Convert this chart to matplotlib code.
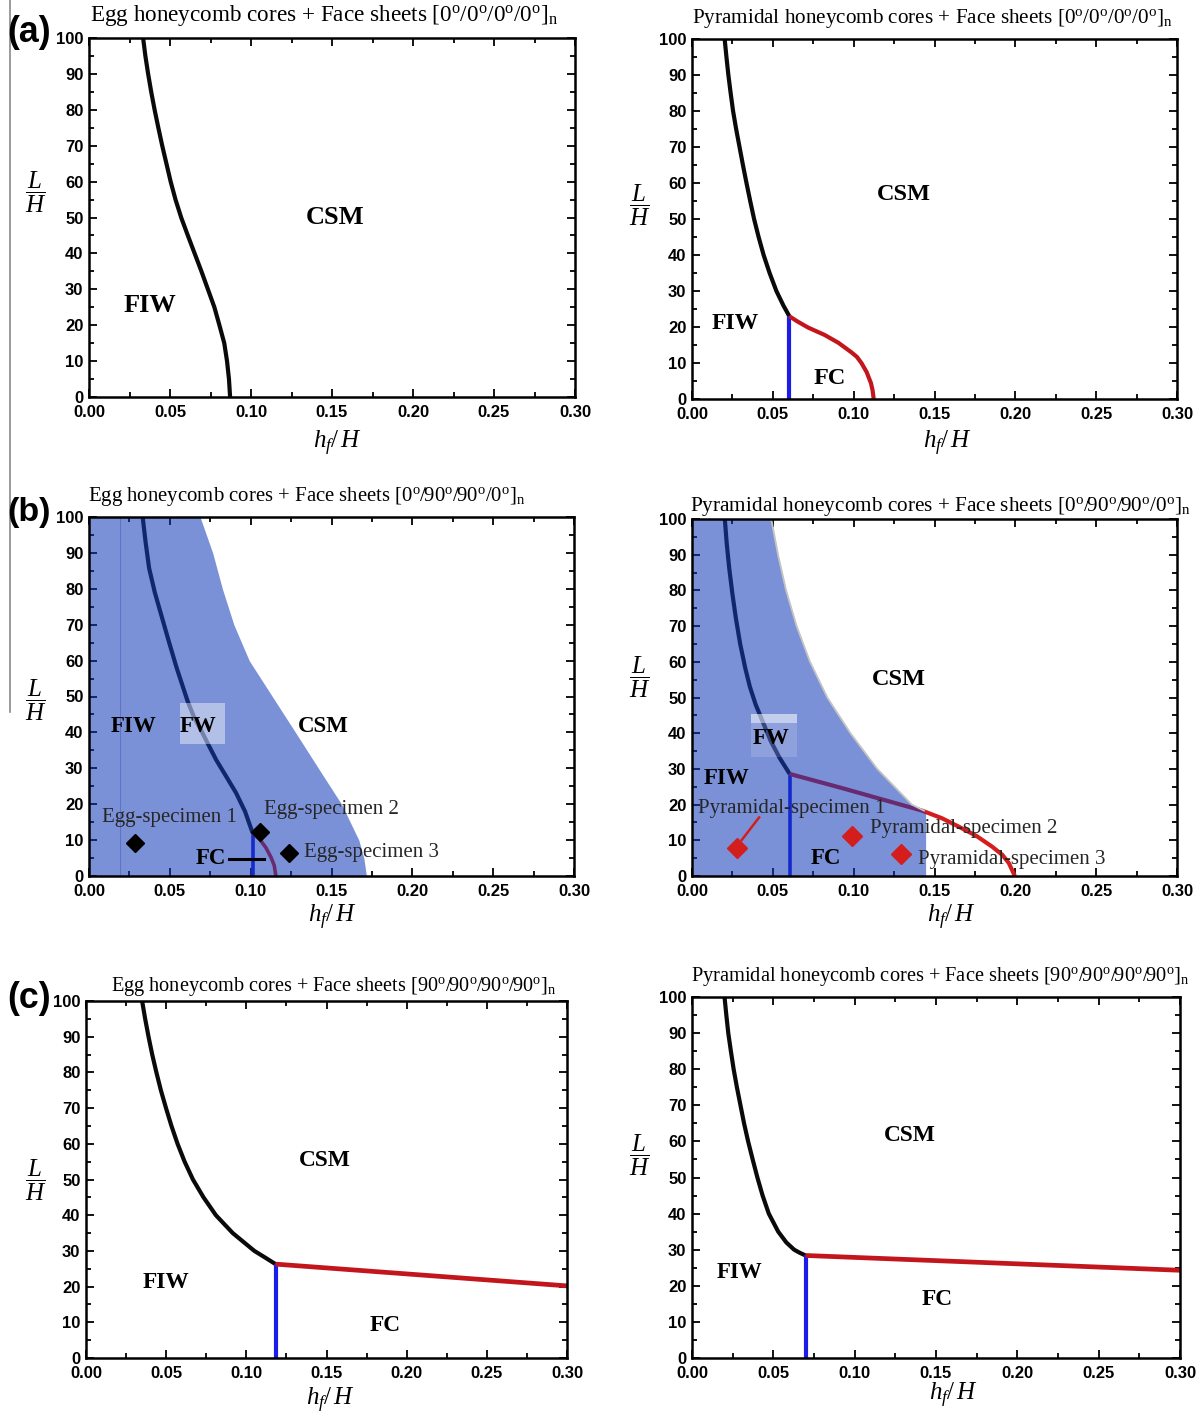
import matplotlib
matplotlib.use('Agg')
import matplotlib.pyplot as plt
from matplotlib.patches import Rectangle
from matplotlib.lines import Line2D
from matplotlib.ticker import MultipleLocator

plt.rcParams['font.family'] = 'Liberation Serif'
plt.rcParams['mathtext.fontset'] = 'custom'
plt.rcParams['mathtext.rm'] = 'Liberation Serif'
plt.rcParams['mathtext.it'] = 'Liberation Serif:italic'
plt.rcParams['mathtext.bf'] = 'Liberation Serif:bold'

# ---------------- data ----------------
x_ticks = [0.00, 0.05, 0.10, 0.15, 0.20, 0.25, 0.30]
x_tick_labels = ['0.00', '0.05', '0.10', '0.15', '0.20', '0.25', '0.30']
y_ticks = [0, 10, 20, 30, 40, 50, 60, 70, 80, 90, 100]
y_tick_labels = ['0', '10', '20', '30', '40', '50', '60', '70', '80', '90', '100']

titles = [
    r'Egg honeycomb cores + Face sheets [0$^{\rm o}$/0$^{\rm o}$/0$^{\rm o}$/0$^{\rm o}$]$_{\rm n}$',
    r'Pyramidal honeycomb cores + Face sheets [0$^{\rm o}$/0$^{\rm o}$/0$^{\rm o}$/0$^{\rm o}$]$_{\rm n}$',
    r'Egg honeycomb cores + Face sheets [0$^{\rm o}$/90$^{\rm o}$/90$^{\rm o}$/0$^{\rm o}$]$_{\rm n}$',
    r'Pyramidal honeycomb cores + Face sheets [0$^{\rm o}$/90$^{\rm o}$/90$^{\rm o}$/0$^{\rm o}$]$_{\rm n}$',
    r'Egg honeycomb cores + Face sheets [90$^{\rm o}$/90$^{\rm o}$/90$^{\rm o}$/90$^{\rm o}$]$_{\rm n}$',
    r'Pyramidal honeycomb cores + Face sheets [90$^{\rm o}$/90$^{\rm o}$/90$^{\rm o}$/90$^{\rm o}$]$_{\rm n}$',
]
panel_letters = ['(a)', '(b)', '(c)']

# (a) Egg [0/0/0/0]
a_egg_black_x = [0.0334, 0.0348, 0.0365, 0.0384, 0.0405, 0.0428, 0.0452, 0.0478, 0.0504, 0.0534, 0.0569,
                 0.0610, 0.0652, 0.0694, 0.0734, 0.0774, 0.0805, 0.0835, 0.0852, 0.0864, 0.0871]
a_egg_black_y = [100, 95, 90, 85, 80, 75, 70, 65, 60, 55, 50, 45, 40, 35, 30, 25, 20, 15, 10, 5, 0]

# (a) Pyramidal [0/0/0/0]
a_pyr_black_x = [0.0202, 0.0213, 0.0225, 0.0239, 0.0254, 0.0273, 0.0294, 0.0315, 0.0337, 0.036, 0.0384,
                 0.0412, 0.0443, 0.048, 0.0522, 0.0565, 0.0602]
a_pyr_black_y = [100, 95, 90, 85, 80, 75, 70, 65, 60, 55, 50, 45, 40, 35, 30, 26, 23]
a_pyr_blue_x = [0.0602, 0.0602]
a_pyr_blue_y = [0, 23]
a_pyr_red_x = [0.0602, 0.065, 0.0716, 0.076, 0.082, 0.0906, 0.0985, 0.102, 0.1048, 0.108, 0.1107, 0.1117, 0.1124]
a_pyr_red_y = [23, 21.6, 19.9, 19.0, 17.8, 15.6, 13, 11.7, 10, 7.5, 4.4, 2.4, 0]

# (b) Egg [0/90/90/0]
b_egg_black_x = [0.0332, 0.0350, 0.0372, 0.0407, 0.0452, 0.0496, 0.0542, 0.061, 0.0652, 0.070, 0.0745,
                 0.0786, 0.0845, 0.0909, 0.0965, 0.1012]
b_egg_black_y = [100, 93, 85.7, 79, 71.9, 65, 58, 48.7, 44, 40, 36, 32.4, 28, 23.2, 18, 12.0]
b_egg_blue_x = [0.1012, 0.1012]
b_egg_blue_y = [0, 12.0]
b_egg_red_x = [0.1012, 0.1055, 0.1094, 0.1126, 0.1146, 0.1156]
b_egg_red_y = [12.0, 10.3, 7.9, 5.2, 2.9, 0]
b_egg_shade_x = [0.0687, 0.0765, 0.0825, 0.0896, 0.0991, 0.1134, 0.1277, 0.1419, 0.1562, 0.1669, 0.1700, 0.1716]
b_egg_shade_y = [100, 90, 80, 70, 60, 50, 40, 30, 20, 10, 5, 0]
b_egg_spec_x = [0.0287, 0.1057, 0.1239]
b_egg_spec_y = [9.3, 12.2, 6.3]
b_egg_spec_labels = ['Egg-specimen 1', 'Egg-specimen 2', 'Egg-specimen 3']

# (b) Pyramidal [0/90/90/0]
b_pyr_black_x = [0.0203, 0.0215, 0.023, 0.025, 0.0271, 0.0298, 0.0329, 0.0358, 0.0394, 0.0436, 0.0485,
                 0.0543, 0.0604]
b_pyr_black_y = [100, 93, 86.3, 79, 72.3, 65, 58.3, 53, 48, 43.4, 38, 33, 28.6]
b_pyr_blue_x = [0.0604, 0.0604]
b_pyr_blue_y = [0, 28.6]
b_pyr_red_x = [0.0604, 0.093, 0.1424, 0.1545, 0.1651, 0.176, 0.1857, 0.192, 0.196, 0.1997]
b_pyr_red_y = [28.6, 24.6, 18.3, 16.2, 13.8, 11.2, 8.2, 5.9, 3.6, 0]
b_pyr_shade_x = [0.0490, 0.0532, 0.0582, 0.0647, 0.073, 0.0837, 0.098, 0.1146, 0.136, 0.1435, 0.1445, 0.1445]
b_pyr_shade_y = [100, 90, 80, 70, 60, 50, 40, 30, 20, 18.3, 17.5, 0]
b_pyr_spec_x = [0.0281, 0.0992, 0.129]
b_pyr_spec_y = [7.8, 11.3, 6.2]
b_pyr_spec_labels = ['Pyramidal-specimen 1', 'Pyramidal-specimen 2', 'Pyramidal-specimen 3']

# (c) Egg [90/90/90/90]
c_egg_black_x = [0.035, 0.0369, 0.039, 0.0413, 0.0439, 0.0467, 0.0499, 0.0533, 0.0571, 0.0615, 0.0667,
                 0.0733, 0.081, 0.0915, 0.105, 0.1115, 0.1182]
c_egg_black_y = [100, 95, 90, 85, 80, 75, 70, 65, 60, 55, 50, 45, 40, 35, 30, 28.2, 26.3]
c_egg_blue_x = [0.1182, 0.1182]
c_egg_blue_y = [0, 26.3]
c_egg_red_x = [0.1182, 0.30]
c_egg_red_y = [26.3, 20.2]

# (c) Pyramidal [90/90/90/90]
c_pyr_black_x = [0.020, 0.0211, 0.0223, 0.0239, 0.0256, 0.0276, 0.0298, 0.032, 0.0345, 0.0373, 0.0402,
                 0.0434, 0.0472, 0.0530, 0.0580, 0.0628, 0.0660, 0.0698]
c_pyr_black_y = [100, 95, 90, 85, 80, 75, 70, 65, 60, 55, 50, 45, 40, 35, 32, 30, 29.2, 28.4]
c_pyr_blue_x = [0.0698, 0.0698]
c_pyr_blue_y = [0, 28.4]
c_pyr_red_x = [0.0698, 0.30]
c_pyr_red_y = [28.4, 24.3]

# ---------------- styling ----------------
W, H = 1200, 1413
fig = plt.figure(figsize=(12, 14.13), dpi=100)
renderer = fig.canvas.get_renderer()

BLACK = '#0a0a0a'
BLUE = '#1c1ce8'
RED = '#c2161c'
RED_B = '#d41e1e'
SHADE = (15/255, 55/255, 182/255)
SHADE_A = 0.55
LW = 3.0


def px_rect(x0, x1, y0, y1):
    return [x0 / W, 1 - y1 / H, (x1 - x0) / W, (y1 - y0) / H]


def style(ax):
    ax.set_xlim(0, 0.3)
    ax.set_ylim(0, 100)
    ax.set_xticks(x_ticks)
    ax.set_xticklabels(x_tick_labels, fontfamily='Liberation Sans', fontweight='bold', fontsize=12)
    ax.set_yticks(y_ticks)
    ax.set_yticklabels(y_tick_labels, fontfamily='Liberation Sans', fontweight='bold', fontsize=12)
    ax.xaxis.set_minor_locator(MultipleLocator(0.025))
    ax.yaxis.set_minor_locator(MultipleLocator(5))
    ax.tick_params(which='both', direction='in', top=True, right=True, width=1.3)
    ax.tick_params(which='major', length=6)
    ax.tick_params(which='minor', length=3.5)
    ax.tick_params(axis='x', pad=6)
    ax.tick_params(axis='y', pad=4)
    for s in ax.spines.values():
        s.set_linewidth(1.8)
        s.set_zorder(10)


def fit_text(x_px, y_px, s, target_w, ha='left', **kw):
    t = fig.text(x_px / W, 1 - y_px / H, s, ha=ha, va='center', fontsize=15, **kw)
    w = t.get_window_extent(renderer).width
    t.set_fontsize(15 * target_w / w)
    return t


def region(ax, x, y, s, size=17):
    ax.text(x, y, s, ha='center', va='center', fontsize=size, fontweight='bold',
            fontfamily='Liberation Serif', color='black', zorder=8)


def ylab(x_px, y_px):
    fig.text(x_px / W, 1 - y_px / H, r'$\dfrac{L}{H}$', ha='center', va='center', fontsize=18)


def xlab(x_px, y_px):
    fig.text(x_px / W, 1 - y_px / H, r'$h_f/\,H$', ha='center', va='center', fontsize=18)


def curve(ax, x, y, color, lw=LW, z=2):
    ax.plot(x, y, color=color, lw=lw, solid_joinstyle='round', solid_capstyle='butt', zorder=z)


axes_px = [
    (89, 575, 38, 397),
    (692, 1177, 39, 399),
    (89, 574, 517, 876),
    (692, 1177, 519, 876),
    (86, 567, 1001, 1358),
    (692, 1180, 997, 1358),
]
axs = [fig.add_axes(px_rect(*p)) for p in axes_px]
for ax in axs:
    style(ax)

# ---- (a) left
ax = axs[0]
curve(ax, a_egg_black_x, a_egg_black_y, BLACK)
region(ax, 0.152, 50.1, 'CSM', 19)
region(ax, 0.0376, 25.5, 'FIW', 19)

# ---- (a) right
ax = axs[1]
curve(ax, a_pyr_black_x, a_pyr_black_y, BLACK)
curve(ax, a_pyr_blue_x, a_pyr_blue_y, BLUE)
curve(ax, a_pyr_red_x, a_pyr_red_y, RED)
region(ax, 0.131, 56.8, 'CSM', 17.5)
region(ax, 0.0266, 21.1, 'FIW', 17)
region(ax, 0.0854, 5.8, 'FC', 17.5)

# ---- (b) left
ax = axs[2]
curve(ax, b_egg_black_x, b_egg_black_y, '#151515')
curve(ax, b_egg_blue_x, b_egg_blue_y, BLUE, 2.6)
curve(ax, b_egg_red_x, b_egg_red_y, RED_B, 2.6)
ax.fill_betweenx(b_egg_shade_y, 0, b_egg_shade_x, color=SHADE, alpha=SHADE_A, lw=0, zorder=3)
ax.axvline(0.019, color='#5c74c8', lw=0.8, zorder=3.5)
ax.add_patch(Rectangle((0.0563, 36.9), 0.0281, 11.4, facecolor='white', alpha=0.42, lw=0, zorder=4))
ax.plot(b_egg_spec_x, b_egg_spec_y, 'D', color='black', ms=9, ls='none', zorder=6)
ax.text(0.0081, 16.3, b_egg_spec_labels[0], ha='left', va='center', fontsize=15, color='#262626', zorder=7)
ax.text(0.1084, 18.5, b_egg_spec_labels[1], ha='left', va='center', fontsize=15, color='#262626', zorder=7)
ax.text(0.1331, 6.5, b_egg_spec_labels[2], ha='left', va='center', fontsize=15, color='#262626', zorder=7)
ax.plot([0.0868, 0.1084], [4.8, 4.8], color='black', lw=2.2, zorder=6)
region(ax, 0.0755, 4.8, 'FC', 16.5)
region(ax, 0.0276, 41.7, 'FIW', 16.5)
region(ax, 0.0675, 41.7, 'FW', 16.5)
region(ax, 0.1448, 41.7, 'CSM', 16.5)

# ---- (b) right
ax = axs[3]
curve(ax, b_pyr_black_x, b_pyr_black_y, '#151515')
curve(ax, b_pyr_blue_x, b_pyr_blue_y, BLUE, 2.6)
curve(ax, b_pyr_red_x, b_pyr_red_y, RED_B)
ax.fill_betweenx(b_pyr_shade_y, 0, b_pyr_shade_x, color=SHADE, alpha=SHADE_A, lw=0, zorder=3)
ax.plot(b_pyr_shade_x[:10], b_pyr_shade_y[:10], color='#c4c4c4', lw=1.3, zorder=3.2)
ax.add_patch(Rectangle((0.0368, 42.8), 0.0283, 2.5, facecolor='white', alpha=0.55, lw=0, zorder=4))
ax.add_patch(Rectangle((0.0368, 33.4), 0.0283, 9.4, facecolor='white', alpha=0.15, lw=0, zorder=4))
ax.plot([0.0415, 0.0308], [16.4, 10.1], color='#d41e1e', lw=1.8, zorder=6)
ax.plot(b_pyr_spec_x, b_pyr_spec_y, 'D', color='#d41e1e', ms=10, ls='none', zorder=6)
ax.text(0.004, 19.0, b_pyr_spec_labels[0], ha='left', va='center', fontsize=15, color='#262626', zorder=7)
ax.text(0.1098, 13.4, b_pyr_spec_labels[1], ha='left', va='center', fontsize=15, color='#262626', zorder=7)
ax.text(0.1395, 4.7, b_pyr_spec_labels[2], ha='left', va='center', fontsize=15, color='#262626', zorder=7)
region(ax, 0.1277, 55.0, 'CSM', 17.5)
region(ax, 0.0492, 38.6, 'FW', 16.5)
region(ax, 0.0214, 27.4, 'FIW', 16.5)
region(ax, 0.0825, 5.0, 'FC', 16.5)

# ---- (c) left
ax = axs[4]
curve(ax, c_egg_black_x, c_egg_black_y, BLACK)
curve(ax, c_egg_blue_x, c_egg_blue_y, BLUE)
curve(ax, c_egg_red_x, c_egg_red_y, RED, 3.4)
region(ax, 0.1487, 55.4, 'CSM', 16.8)
region(ax, 0.0499, 21.1, 'FIW', 16.8)
region(ax, 0.1866, 9.2, 'FC', 16.8)

# ---- (c) right
ax = axs[5]
curve(ax, c_pyr_black_x, c_pyr_black_y, BLACK)
curve(ax, c_pyr_blue_x, c_pyr_blue_y, BLUE)
curve(ax, c_pyr_red_x, c_pyr_red_y, RED, 3.4)
region(ax, 0.1339, 61.5, 'CSM', 16.8)
region(ax, 0.0291, 23.7, 'FIW', 16.5)
region(ax, 0.1508, 16.3, 'FC', 16.8)

# ---- titles
title_pos = [(90, 16, 470), (692, 19, 483), (88, 496, 439), (690, 506, 502), (111, 987, 446), (691, 976, 500)]
for (xp, yp, wt), s in zip(title_pos, titles):
    fit_text(xp, yp, s, wt, fontfamily='Liberation Serif')

# ---- panel letters
for (yp, s) in zip([33, 512, 998], panel_letters):
    fit_text(7, yp, s, 44, fontfamily='Liberation Sans', fontweight='bold')

# ---- axis labels
for (xp, yp) in [(36, 192), (640, 205), (36, 700), (640, 677), (36, 1180), (640, 1155)]:
    ylab(xp, yp)
for (xp, yp) in [(338, 443), (948, 443), (333, 917), (952, 917), (331, 1400), (954, 1395)]:
    xlab(xp, yp)

# thin vertical rule at the left edge
fig.add_artist(Line2D([10 / W, 10 / W], [1, 1 - 712 / H], color='#8a8a8a', lw=1.2))

fig.savefig('out.png', dpi=100)
